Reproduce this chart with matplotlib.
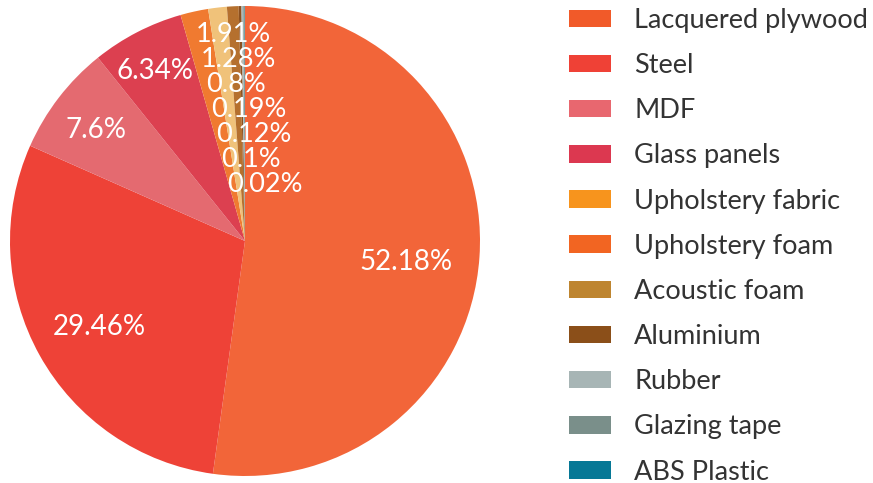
import numpy as np
import matplotlib.pyplot as plt
from matplotlib.patches import Patch

# materials share (%)
materials = ['Lacquered plywood', 'Steel', 'MDF', 'Glass panels', 'Upholstery fabric',
             'Upholstery foam', 'Acoustic foam', 'Aluminium', 'Rubber', 'Glazing tape',
             'ABS Plastic']
shares = [52.18, 29.46, 7.6, 6.34, 1.91, 1.28, 0.8, 0.19, 0.12, 0.1, 0.02]
labels = ['52.18%', '29.46%', '7.6%', '6.34%', '1.91%', '1.28%', '0.8%', '0.19%',
          '0.12%', '0.1%', '0.02%']

# colours as they appear on the pie, and in the legend
pie_colors = ['#F26539', '#EE4237', '#E46A70', '#DC4050', '#F07A30', '#F0C27A',
              '#B5702E', '#8B5020', '#A9B8B8', '#7F918C', '#087A96']
legend_colors = ['#F15A29', '#EF4136', '#E8676F', '#DC3850', '#F7941D', '#F26522',
                 '#BE8530', '#8B4F19', '#A7B5B5', '#7A8F8A', '#067896']

plt.rcParams['font.family'] = ['Lato', 'DejaVu Sans']

fig = plt.figure(figsize=(8.73, 4.83), dpi=100)
ax = fig.add_axes([10 / 873, 7 / 483, 470 / 873, 470 / 483])

wedges, _ = ax.pie(shares, colors=pie_colors, startangle=90, counterclock=False,
                   wedgeprops=dict(linewidth=0))
ax.set_xlim(-1, 1)
ax.set_ylim(-1, 1)
ax.set_aspect('equal')

# big slice labels: radial (radius, angle nudge in degrees)
radii = [0.69, 0.72, 0.79, 0.82]
nudge = [-3.5, 1.5, 1.0, 0.5]
for i, r in enumerate(radii):
    w = wedges[i]
    ang = np.deg2rad((w.theta1 + w.theta2) / 2 + nudge[i])
    ax.text(r * np.cos(ang), r * np.sin(ang), labels[i], ha='center', va='center',
            color='white', fontsize=20)

# small slice labels stacked down from the top
for k, i in enumerate(range(4, len(labels))):
    ax.text(-0.21 + 0.022 * k, 0.877 - 0.106 * k, labels[i], ha='left', va='center',
            color='white', fontsize=19.5)

handles = [Patch(facecolor=c, edgecolor='none') for c in legend_colors]
fig.legend(handles, materials, loc='upper left', bbox_to_anchor=(558 / 873, 1 + 3 / 483),
           frameon=False, handlelength=1.55, handleheight=0.61,
           handletextpad=0.87, labelspacing=0.745, borderaxespad=0,
           labelcolor='#333333', prop={'size': 19.5})

fig.savefig('out.png', dpi=100)
